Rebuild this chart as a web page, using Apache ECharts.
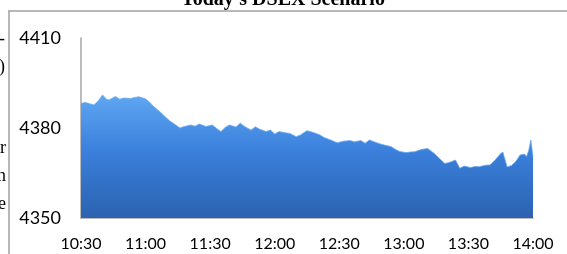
<!DOCTYPE html>
<html>
<head>
<meta charset="utf-8">
<script src="https://cdn.jsdelivr.net/npm/echarts@6/dist/echarts.min.js"></script>
<style>
  html, body { margin: 0; padding: 0; background: #fff; }
  #chart { width: 567px; height: 254px; }
</style>
</head>
<body>
<div id="chart"></div>
<script>
  // DSEX intraday index
  const times = ['10:30','10:32','10:36','10:38','10:40','10:42','10:43','10:46','10:48','10:50',
    '10:53','10:55','10:57','11:00','11:02','11:04','11:07','11:09','11:11','11:14',
    '11:16','11:18','11:21','11:23','11:25','11:28','11:31','11:33','11:35','11:37',
    '11:39','11:42','11:44','11:46','11:49','11:51','11:53','11:56','11:58','12:00',
    '12:02','12:05','12:07','12:10','12:12','12:15','12:18','12:21','12:23','12:26',
    '12:29','12:32','12:35','12:37','12:40','12:42','12:44','12:47','12:49','12:51',
    '12:54','12:56','12:58','13:01','13:03','13:05','13:08','13:11','13:14','13:17',
    '13:19','13:21','13:24','13:26','13:28','13:31','13:33','13:35','13:38','13:40',
    '13:42','13:45','13:46','13:48','13:50','13:52','13:54','13:56','13:57','13:58',
    '13:59','14:00'];
  const values = [4388.2,4388.5,4387.7,4389,4391,4389.5,4389.3,4390.5,4389.6,4390,
    4389.8,4390.2,4390.4,4389.7,4388.5,4387,4385.2,4383.8,4382.5,4381,
    4380,4380.5,4381,4380.6,4381.3,4380.5,4381,4379.8,4378.8,4380.2,
    4381,4380.3,4381.6,4380.5,4379.3,4380.4,4379.6,4378.8,4379.3,4378,
    4378.8,4378.4,4378.2,4377.1,4377.7,4379.1,4378.5,4377.7,4376.8,4376,
    4375.1,4375.6,4375.8,4375.4,4375.8,4374.9,4376,4375.2,4374.7,4374.3,
    4373.8,4372.9,4372.2,4371.8,4372,4372.1,4372.8,4373.2,4371.6,4369.5,
    4368.2,4368.5,4369.3,4366.6,4367.3,4366.8,4367.2,4367.1,4367.6,4367.7,
    4369,4371.5,4372,4367,4367.5,4368.8,4371,4371.3,4370.5,4372.5,
    4376,4370.4];
  const tickLabels = ['10:30','11:00','11:30','12:00','12:30','13:00','13:30','14:00'];
  const yTicks = [4350, 4380, 4410];

  function toMin(s) {
    let p = s.split(':');
    return (+p[0]) * 60 + (+p[1]) - 630;
  }

  const data = times.map((t, i) => [toMin(t), values[i]]);

  const chart = echarts.init(document.getElementById('chart'));
  chart.setOption({
    animation: false,
    grid: { left: 81, right: 34, top: 38, bottom: 36 },
    xAxis: {
      type: 'value',
      min: 0,
      max: 210,
      interval: 30,
      axisLine: { show: true, lineStyle: { color: '#a6a6a6', width: 1.5 } },
      axisTick: { show: false },
      splitLine: { show: false },
      axisLabel: {
        margin: 18,
        fontFamily: 'Lato',
        fontSize: 16,
        color: '#000',
        formatter: v => tickLabels[v / 30]
      }
    },
    yAxis: {
      type: 'value',
      min: 4350,
      max: 4410,
      interval: 30,
      axisLine: { show: true, lineStyle: { color: '#a6a6a6', width: 1.5 } },
      axisTick: { show: false },
      splitLine: { show: false },
      axisLabel: {
        margin: 20,
        fontFamily: 'Lato',
        fontSize: 18,
        color: '#000',
        formatter: v => yTicks.indexOf(v) >= 0 ? String(v) : ''
      }
    },
    series: [{
      type: 'line',
      data: data,
      symbol: 'none',
      lineStyle: { width: 0.8, color: '#6aaaf2' },
      areaStyle: {
        opacity: 1,
        color: new echarts.graphic.LinearGradient(0, 0, 0, 1, [
          { offset: 0, color: '#5fa6f2' },
          { offset: 0.45, color: '#3b80dc' },
          { offset: 1, color: '#2b62b0' }
        ])
      }
    }],
    graphic: [
      { type: 'line', shape: { x1: 8, y1: 11, x2: 567, y2: 11 }, style: { stroke: '#a0a0a0', lineWidth: 1.5 } },
      { type: 'line', shape: { x1: 9, y1: 11, x2: 9, y2: 254 }, style: { stroke: '#a0a0a0', lineWidth: 1.5 } },
      { type: 'text', x: 283, y: 0, style: { text: "Today's DSEX Scenario", font: 'bold 20px "Liberation Serif"', fill: '#000', align: 'center', verticalAlign: 'middle' } },
      { type: 'text', x: 5, y: 39, style: { text: '-', font: '18px "Liberation Serif"', fill: '#000', align: 'right', verticalAlign: 'middle' } },
      { type: 'text', x: 5, y: 67, style: { text: ')', font: '18px "Liberation Serif"', fill: '#000', align: 'right', verticalAlign: 'middle' } },
      { type: 'text', x: 6, y: 148, style: { text: 'r', font: '18px "Liberation Serif"', fill: '#000', align: 'right', verticalAlign: 'middle' } },
      { type: 'text', x: 6, y: 176, style: { text: 'n', font: '18px "Liberation Serif"', fill: '#000', align: 'right', verticalAlign: 'middle' } },
      { type: 'text', x: 6, y: 204, style: { text: 'e', font: '18px "Liberation Serif"', fill: '#000', align: 'right', verticalAlign: 'middle' } }
    ]
  });
</script>
</body>
</html>
